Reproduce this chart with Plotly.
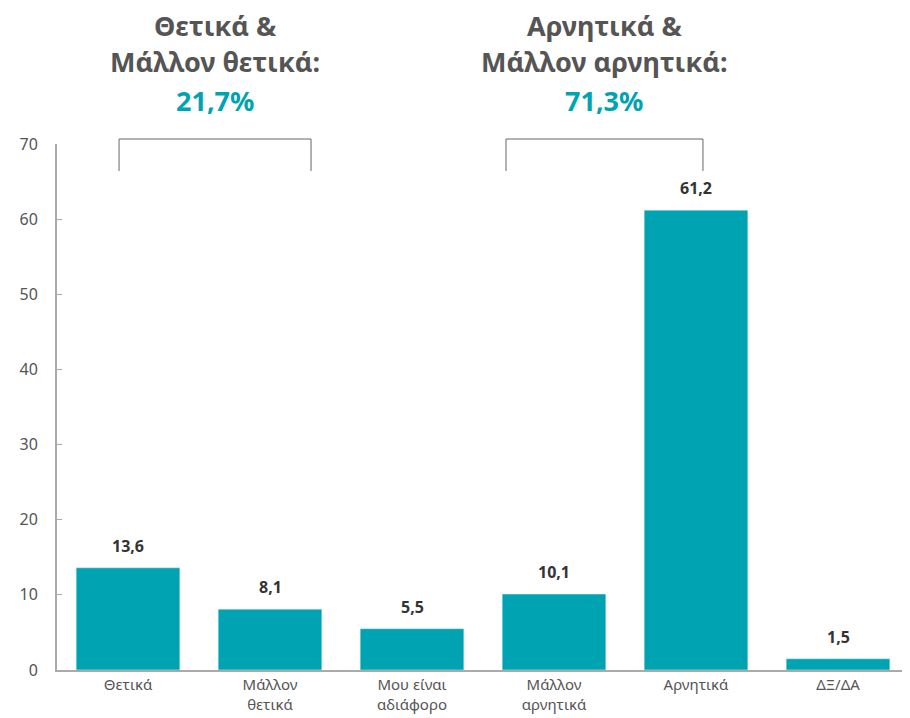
import plotly.graph_objects as go

categories = ["Θετικά", "Μάλλον<br>θετικά", "Μου είναι<br>αδιάφορο", "Μάλλον<br>αρνητικά", "Αρνητικά", "ΔΞ/ΔΑ"]
values = [13.6, 8.1, 5.5, 10.1, 61.2, 1.5]
group_titles = [["Θετικά &", "Μάλλον θετικά:"], ["Αρνητικά &", "Μάλλον αρνητικά:"]]
group_totals = ["21,7%", "71,3%"]
bracket_spans = [[-0.063, 1.289], [2.662, 4.049]]

TEAL = "#00A3B1"
GRAY = "#555555"
FONT = "Noto Sans"
xs = list(range(len(categories)))

fig = go.Figure()
fig.add_trace(go.Bar(x=xs, y=values, marker_color=TEAL, width=0.73, hoverinfo="skip"))

annotations = []
for x, v in zip(xs, values):
    annotations.append(dict(x=x, y=v, xref="x", yref="y", text=f"{v:.1f}".replace(".", ","),
                            showarrow=False, yanchor="bottom", yshift=9,
                            font=dict(family=FONT, size=16, color="#333333", weight="bold")))

shapes = []
for (x0, x1), (l1, l2), tot in zip(bracket_spans, group_titles, group_totals):
    xc = (x0 + x1) / 2
    shapes.append(dict(type="path", xref="x", yref="paper",
                       path=f"M {x0},0.9487 L {x0},1.0095 L {x1},1.0095 L {x1},0.9487",
                       line=dict(color="#666666", width=1)))
    for txt, yy, col in [(l1, 1.226, GRAY), (l2, 1.156, GRAY), (tot, 1.082, TEAL)]:
        annotations.append(dict(x=xc, y=yy, xref="x", yref="paper", text=txt, showarrow=False,
                                xanchor="center", yanchor="middle",
                                font=dict(family=FONT, size=27, color=col, weight="bold")))

fig.update_layout(
    width=910, height=718,
    margin=dict(l=49, r=9, t=136, b=56),
    plot_bgcolor="white", paper_bgcolor="white",
    showlegend=False,
    bargap=0.27,
    annotations=annotations,
    shapes=shapes,
    font=dict(family=FONT, color=GRAY, size=14),
    xaxis=dict(tickmode="array", tickvals=xs, ticktext=categories, range=[-0.5, 5.5],
               showline=True, linecolor="#aaaaaa", linewidth=2, ticks="", showgrid=False,
               zeroline=False, tickfont=dict(family=FONT, size=15, color=GRAY)),
    yaxis=dict(range=[0, 70], dtick=10, showline=True, linecolor="#aaaaaa", linewidth=2,
               ticks="inside", ticklen=5, tickcolor="#aaaaaa", showgrid=False, zeroline=False,
               ticklabelstandoff=14, tickfont=dict(family=FONT, size=16, color=GRAY)),
)

fig.write_html("out.html")
